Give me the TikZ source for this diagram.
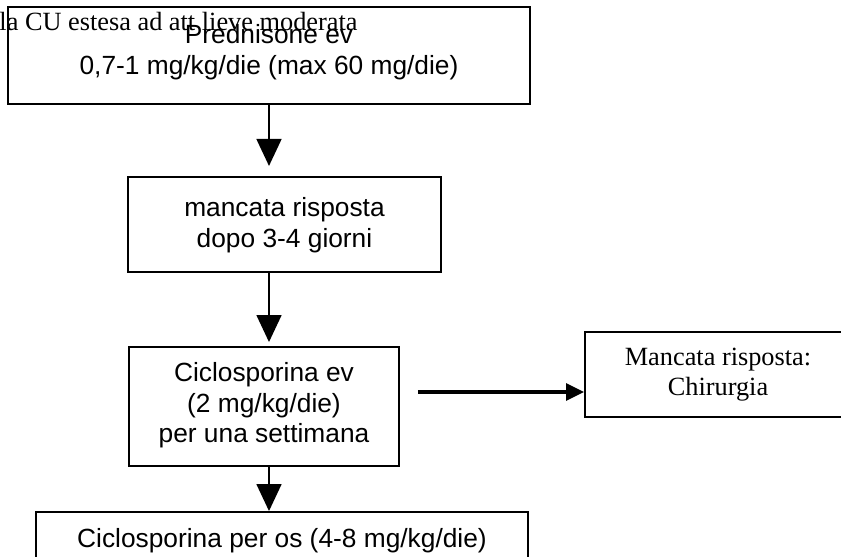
\documentclass[tikz,border=0pt]{standalone}
\usepackage{fontspec}
\setmainfont{Liberation Serif}
\setsansfont{Liberation Sans}
\usetikzlibrary{arrows.meta,positioning}

\begin{document}
\begin{tikzpicture}[x=0.456pt,y=-0.456pt,>={Triangle[width=11.4pt,length=12.3pt]},
  box/.style={draw,line width=0.9pt,inner sep=0pt},
  txt/.style={inner sep=0pt,align=center,font=\sffamily\fontsize{12}{14}\selectfont},
  rtxt/.style={inner sep=0pt,align=center,font=\rmfamily\fontsize{12}{14}\selectfont},
  link/.style={->,line width=0.7pt}]

    \useasboundingbox (0,0) rectangle (841,557);
    \clip (0,0) rectangle (841,557);

    \node[rtxt,anchor=base west] (cu) at (-1,31) {la CU estesa ad att lieve moderata};

    \node[box,minimum width=238pt,minimum height=44.2pt] (b1) at (269,55.5) {};
    \node[txt,anchor=north] (t1) at ([yshift=-8.2pt]b1.north) {Prednisone ev\\0,7-1 mg/kg/die (max 60 mg/die)};

    \node[box,minimum width=142.7pt,minimum height=43.3pt] (b2) at (284.5,224.5) {};
    \node[txt,anchor=north] (t2) at ([yshift=-9.6pt]b2.north) {mancata risposta\\dopo 3-4 giorni};

    \node[box,minimum width=123.1pt,minimum height=54.3pt] (b3) at (264,406.5) {};
    \node[txt,anchor=north] (t3) at ([yshift=-7.3pt]b3.north) {Ciclosporina ev\\(2 mg/kg/die)\\per una settimana};

    \node[box,minimum width=224.4pt,minimum height=40.1pt] (b4) at (282,556) {};
    \node[txt,anchor=north] (t4) at ([yshift=-7.8pt]b4.north) {Ciclosporina per os (4-8 mg/kg/die)};

    \node[box,minimum width=121.3pt,minimum height=38.8pt] (b5) at (718,374.5) {};
    \node[rtxt,anchor=north] (t5) at ([yshift=-7.5pt]b5.north) {Mancata risposta:\\Chirurgia};

    \coordinate (h0) at ([shift={(18,-14.5)}]b3.east);

    % frecce
    \draw[link,shorten >=4.6pt] (b1.south) -- (b1.south |- b2.north);
    \draw[link,shorten >=1.8pt] (b1.south |- b2.south) -- (b1.south |- b3.north);
    \draw[link] (b1.south |- b3.south) -- (b1.south |- b4.north);
    \draw[line width=1.4pt,-{Triangle[width=7.7pt,length=8.2pt]}] (h0) -- (h0 -| b5.west);
\end{tikzpicture}
\end{document}
